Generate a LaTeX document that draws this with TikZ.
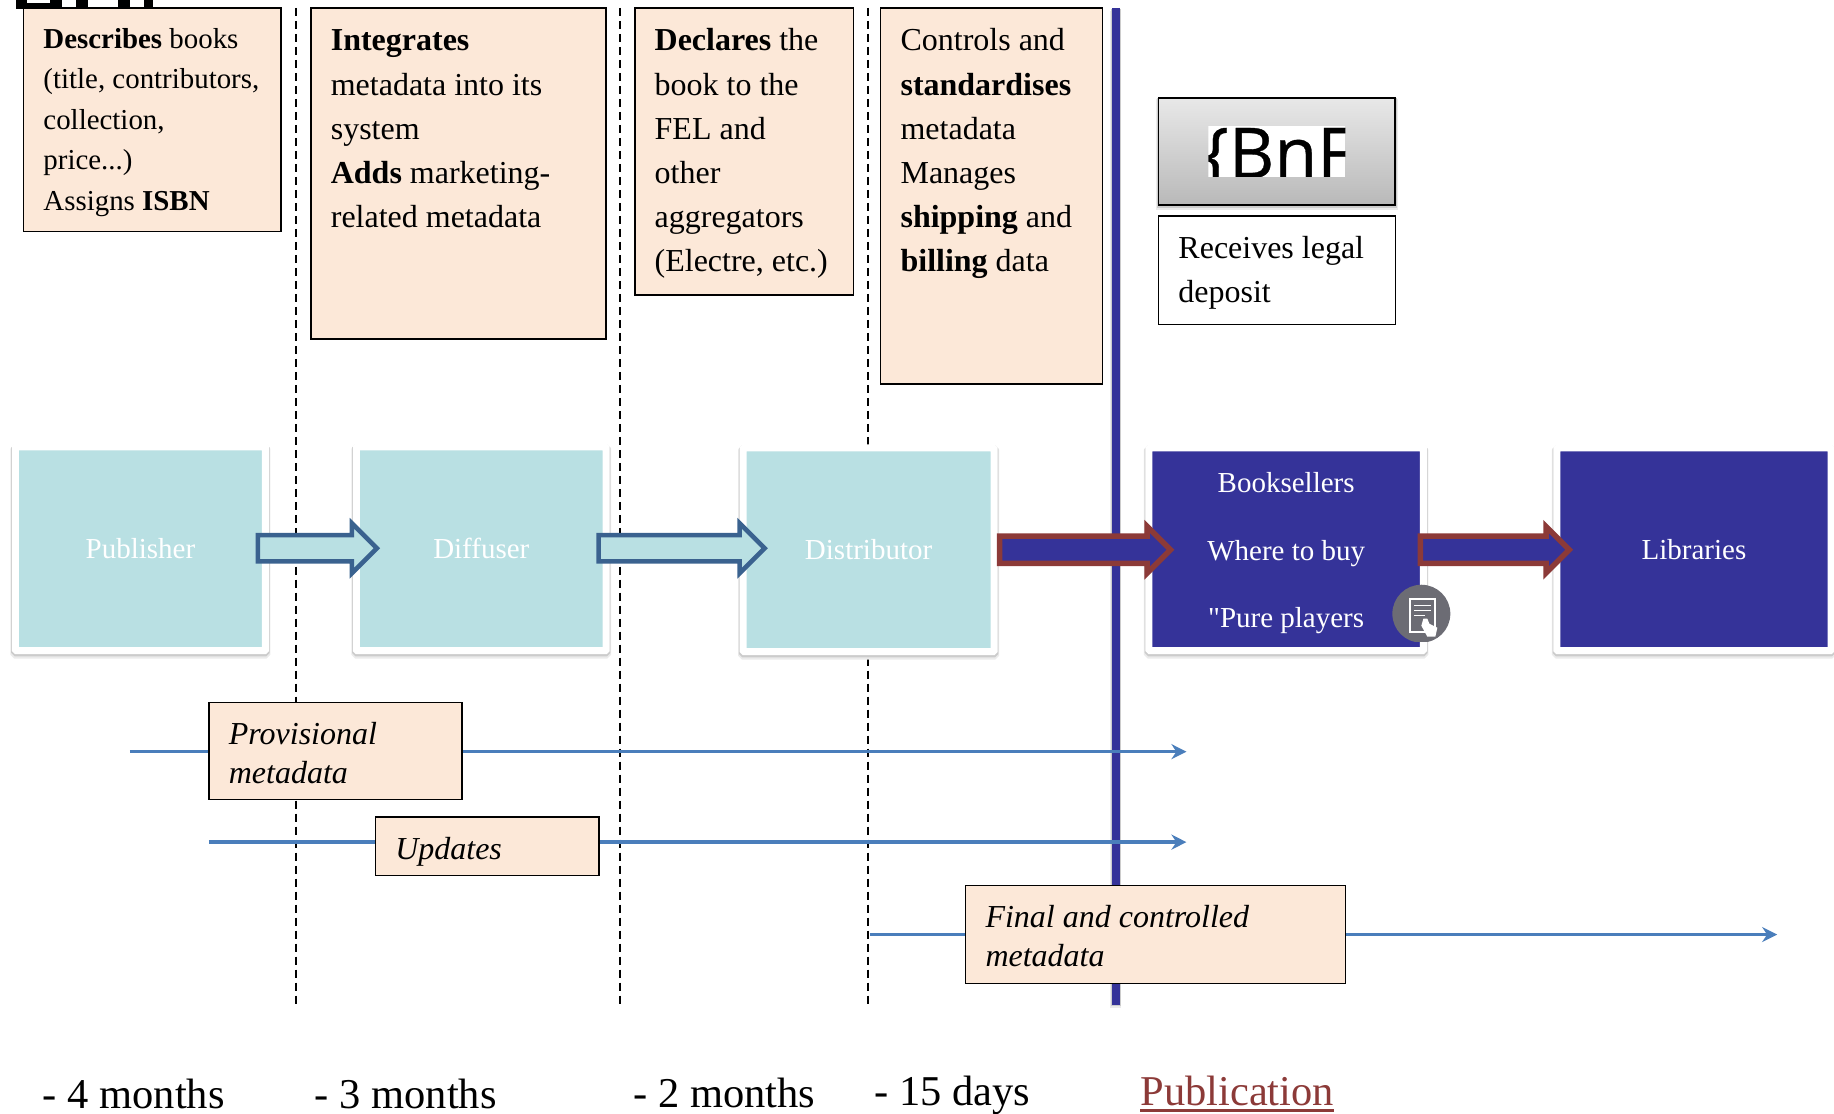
\documentclass[tikz,border=0pt]{standalone}
\usepackage{fontspec}
\setmainfont{Liberation Serif}
\newfontfamily\plainfont{Liberation Serif}
\newfontfamily\logofont{Open Sans}
\usetikzlibrary{arrows.meta,shapes.arrows}

\definecolor{peach}{HTML}{FCE8D8}
\definecolor{paleteal}{HTML}{B9E0E3}
\definecolor{navy}{HTML}{353399}
\definecolor{steel}{HTML}{3A628F}
\definecolor{brick}{HTML}{8C3A38}
\definecolor{timeblue}{HTML}{4A7EBB}
\definecolor{icongray}{HTML}{6C6C74}

\tikzset{
	every node/.style={outer sep=0pt},
	softedge/.style={preaction={draw=gray!16, line width=#1+3pt, transform canvas={yshift=-3pt}},
		preaction={draw=gray!40, line width=#1+1.5pt, transform canvas={yshift=-1.5pt}}},
	notebox/.style n args={3}{draw=black, line width=1.6pt, fill=peach, anchor=north west,
		align=flush left, inner xsep=20pt, inner ysep=12pt, text width=#1pt, text height=#2pt, text depth=#3pt},
	small/.style={font=\fontsize{28.9}{40.4}\selectfont},
	large/.style={font=\fontsize{32}{44.2}\selectfont},
	stagebox/.style n args={2}{softedge=7pt, draw=white, line width=7pt, rounded corners=1pt, anchor=north west,
		inner sep=0pt, minimum width=#1pt, minimum height=#2pt, text=white, align=center,
		font=\fontsize{29}{67.5}\selectfont},
	flowarrow/.style n args={2}{single arrow, anchor=west, inner xsep=0pt, inner ysep=11pt,
		minimum height=#1pt, single arrow head extend=11.75pt, #2},
	dateline/.style={font=\fontsize{42.5}{48}\selectfont, anchor=base west, inner sep=0pt},
	timeline/.style={timeblue, line width=3.5pt, -{Stealth[length=15pt,width=15pt]}},
	phase/.style={black, line width=1.8pt, dash pattern=on 8pt off 5pt}
}

\begin{document}
\begin{tikzpicture}[x=1pt,y=-1pt]
	\useasboundingbox (0,0) rectangle (1834.85,1114.16);

	\fill[black] (16,0) rectangle (62,9);
	\fill[white] (27,0) rectangle (50,3);
	\fill[black] (76,0) rectangle (88,9);
	\fill[black] (118,0) rectangle (130,9);
	\fill[black] (144,0) rectangle (153,9);

	\coordinate (phaseatop) at (296,8);
	\coordinate (phaseabot) at (296,1005);
	\coordinate (phasebtop) at (620,8);
	\coordinate (phasebbot) at (620,1005);
	\coordinate (phasectop) at (868,8);
	\coordinate (phasecbot) at (868,1005);
	\draw[phase] (phaseatop) -- (phaseabot);
	\draw[phase] (phasebtop) -- (phasebbot);
	\draw[phase] (phasectop) -- (phasecbot);

	\coordinate (pubtop) at (1116.5,8);
	\coordinate (pubbot) at (1116.5,1005);
	\draw[navy, line width=8pt, softedge=8pt] (pubtop) -- (pubbot);

	\node[notebox={217.5}{28.5}{171}, small] (describes) at (23.5,8) {\textbf{Describes} books\\\mbox{(title, contributors,}\\collection,\\price...)\\Assigns \textbf{ISBN}};
	\node[notebox={255}{31}{276}, large] (integrates) at (311,8) {\textbf{Integrates}\\metadata into its\\system\\\textbf{Adds} marketing-\\related metadata};
	\node[notebox={179}{31}{232}, large] (declares) at (635,8) {\textbf{Declares} the\\book to the\\FEL and\\other\\aggregators\\(Electre, etc.)};
	\node[notebox={182}{31}{321}, large] (controls) at (881,8) {Controls and\\\textbf{standardises}\\metadata\\Manages\\\textbf{shipping} and\\\textbf{billing} data};

	\node[softedge=1.8pt, draw=black, line width=1.8pt, top color=gray!18, bottom color=gray!55, anchor=north west, inner sep=0pt,
		minimum width=237pt, minimum height=107pt] (bnfbox) at (1159,98) {};
	\begin{scope}
		\clip (1209,126) rectangle (1346,177);
		\fill[white] (1209,126) rectangle (1346,177);
		\node[font=\logofont\fontsize{70}{70}\selectfont\addfontfeature{FakeBold=0.5}, anchor=base west, inner sep=0pt] (bnflogo) at (1203,178) {\{BnF};
	\end{scope}
	\node[notebox={197}{30.5}{54}, large, fill=white] (deposit) at (1159,216) {Receives legal\\deposit};

	\node[stagebox={250}{204}, fill=paleteal] (publisher) at (15.5,447) {Publisher};
	\node[stagebox={250}{204}, fill=paleteal] (diffuser) at (356.5,447) {Diffuser};
	\node[stagebox={251}{204}, fill=paleteal] (distributor) at (743.5,448) {Distributor};
	\node[stagebox={274.5}{203}, fill=navy] (booksellers) at (1149.5,448) {\rule{0pt}{28pt}Booksellers\\Where to buy\\{\plainfont"}Pure players};
	\node[stagebox={274.5}{203}, fill=navy] (libraries) at (1557.5,448) {Libraries};

	\node[flowarrow={119}{draw=steel, fill=paleteal, line width=4.5pt}] (pubtodiff) at (258,548.5) {};
	\node[flowarrow={166}{draw=steel, fill=paleteal, line width=4.5pt}] (difftodist) at (599,548.5) {};
	\node[flowarrow={171}{draw=brick, fill=navy, line width=5.5pt, single arrow head extend=9.5pt}] (disttosell) at (1000,550) {};
	\node[flowarrow={149}{draw=brick, fill=navy, line width=5.5pt, single arrow head extend=9.5pt}] (selltolib) at (1421,550) {};

	\begin{scope}
		\clip (1380,575) rectangle (1451,642);
		\fill[icongray] (1422,614) circle (29);
		\draw[white, line width=2pt, fill=icongray] (1411,599) rectangle (1436,632);
		\draw[white, line width=1.5pt] (1415,606) -- (1432,606) (1415,611) -- (1432,611) (1415,616) -- (1426,616);
		\fill[white] (1424,619) -- (1428,619) -- (1430,624) -- (1438,628) -- (1436,637) -- (1428,637) -- (1422,626) -- cycle;
	\end{scope}

	\coordinate (provstart) at (130,752);
	\coordinate (provend) at (1187,752);
	\coordinate (updstart) at (209,842.5);
	\coordinate (updend) at (1187,842.5);
	\coordinate (finalstart) at (870,935);
	\coordinate (finalend) at (1778,935);
	\draw[timeline] (provstart) -- (provend);
	\draw[timeline] (updstart) -- (updend);
	\draw[timeline] (finalstart) -- (finalend);

	\node[notebox={213}{29.5}{43.5}, font=\itshape\fontsize{32}{39}\selectfont] (provisional) at (209,703) {Provisional\\metadata};
	\node[notebox={183.5}{30}{4.5}, font=\itshape\fontsize{32}{44.2}\selectfont] (updates) at (375.5,817.5) {Updates};
	\node[notebox={340}{30}{44}, font=\itshape\fontsize{32}{38.6}\selectfont] (final) at (966,886) {Final and controlled\\metadata};

	\node[dateline] (fourmonths) at (43,1109) {- 4 months};
	\node[dateline] (threemonths) at (315,1109) {- 3 months};
	\node[dateline] (twomonths) at (634,1108) {- 2 months};
	\node[dateline] (fifteendays) at (875,1106) {- 15 days};
	\node[dateline, text=brick] (publication) at (1141,1106) {Publication};
	\draw[brick, line width=2.5pt] ([yshift=-5pt]publication.base west) -- ([yshift=-5pt]publication.base east);
\end{tikzpicture}
\end{document}
